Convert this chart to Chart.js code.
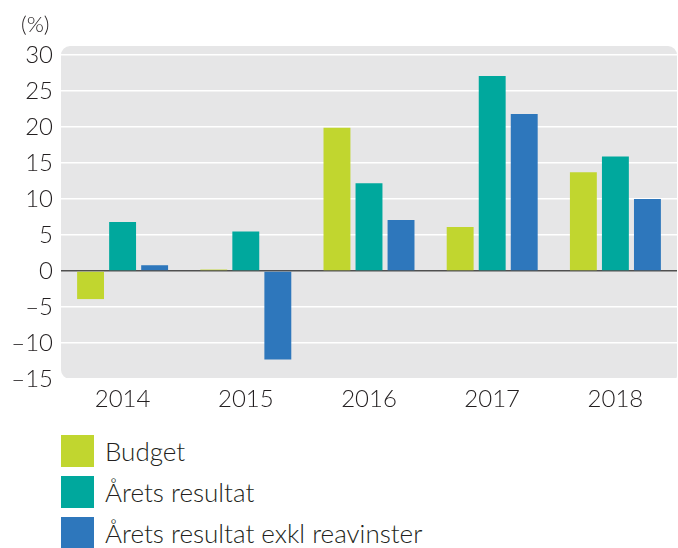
<!DOCTYPE html>
<html>
<head>
<meta charset="utf-8">
<title>Resultat</title>
<style>
  html, body { margin: 0; padding: 0; background: #fff; }
  body { width: 678px; height: 548px; position: relative; overflow: hidden; font-family: Lato, "Noto Sans", sans-serif; font-weight: 300; }
  #wrap { position: absolute; left: 0; top: 0; width: 678px; height: 420px; }
  #legend { position: absolute; left: 61px; top: 435px; margin: 0; padding: 0; list-style: none; }
  #legend li { height: 41px; display: flex; align-items: flex-start; }
  #legend .box { width: 33px; height: 32px; margin-right: 11px; flex: none; }
  #legend .txt { font-size: 26px; line-height: 32px; color: #231f20; white-space: nowrap; }
</style>
</head>
<body>
<div id="wrap"><canvas id="chart"></canvas></div>
<ul id="legend"></ul>
<script src="https://cdn.jsdelivr.net/npm/chart.js"></script>
<script>
var years = ['2014', '2015', '2016', '2017', '2018'];
var budget = [-3.9, 0.2, 19.9, 6.1, 13.7];
var aretsResultat = [6.8, 5.5, 12.2, 27.1, 15.9];
var exklReavinster = [0.8, -12.3, 7.1, 21.8, 10.0];
var yTicks = [-15, -10, -5, 0, 5, 10, 15, 20, 25, 30];

var colors = ['#c1d62f', '#00a89d', '#2e77bc'];
var names = ['Budget', 'Årets resultat', 'Årets resultat exkl reavinster'];

// grey rounded panel behind the plot + the unit label
var panel = {
    id: 'panel',
    beforeDraw: function(chart) {
        var a = chart.chartArea, c = chart.ctx;
        c.save();
        c.fillStyle = '#e6e6e7';
        c.beginPath();
        c.roundRect(a.left, a.top, a.right - a.left, a.bottom - a.top, [9, 9, 3, 9]);
        c.fill();
        c.fillStyle = '#231f20';
        c.font = '300 22px Lato, "Noto Sans", sans-serif';
        c.textBaseline = 'alphabetic';
        c.fillText('(%)', 21, 32);
        c.restore();
    }
};

var ctx = document.getElementById('chart').getContext('2d');
var chart = new Chart(ctx, {
    type: 'bar',
    data: {
        labels: years,
        datasets: [
            { label: names[0], data: budget, backgroundColor: colors[0] },
            { label: names[1], data: aretsResultat, backgroundColor: colors[1] },
            { label: names[2], data: exklReavinster, backgroundColor: colors[2] }
        ]
    },
    options: {
        responsive: true,
        maintainAspectRatio: false,
        animation: false,
        layout: { padding: { top: 46, right: 1, left: 0, bottom: 0 } },
        datasets: { bar: { categoryPercentage: 0.78, barPercentage: 0.84 } },
        plugins: { legend: { display: false }, tooltip: { enabled: false } },
        scales: {
            x: {
                offset: true,
                grid: { display: false, drawTicks: false },
                border: { display: false },
                ticks: { color: '#231f20', padding: 6, font: { family: 'Lato', weight: 300, size: 24 } },
                afterFit: function(s) { s.height = 41; }
            },
            y: {
                min: -15,
                max: 31.25,
                border: { display: false },
                grid: {
                    drawTicks: false,
                    lineWidth: function(c) { return c.tick && c.tick.value === 0 ? 1.6 : 1.5; },
                    color: function(c) { return c.tick && c.tick.value === 0 ? '#505050' : '#ffffff'; }
                },
                afterBuildTicks: function(s) {
                    s.ticks = yTicks.map(function(v) { return { value: v }; });
                },
                ticks: {
                    color: '#231f20',
                    padding: 8,
                    font: { family: 'Lato', weight: 300, size: 24 },
                    callback: function(v) { return String(v).replace('-', '\u2013'); }
                },
                afterFit: function(s) { s.width = 61; }
            }
        }
    },
    plugins: [panel]
});

// legend as a vertical list under the chart
var ul = document.getElementById('legend');
chart.data.datasets.forEach(function(ds) {
    var li = document.createElement('li');
    li.innerHTML = '<span class="box" style="background:' + ds.backgroundColor + '"></span><span class="txt">' + ds.label + '</span>';
    ul.appendChild(li);
});
</script>
</body>
</html>
